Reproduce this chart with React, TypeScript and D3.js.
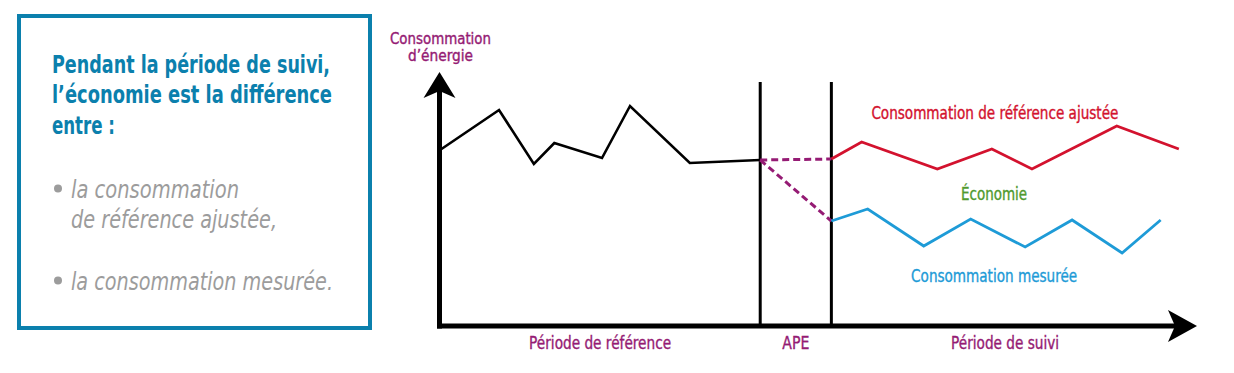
import React from "react";
import * as d3 from "d3";

// Time (arbitrary units, 0-100) and energy consumption (arbitrary units, 0-100)
const referenceT = [0, 7.8, 12.4, 15.1, 21.4, 25.1, 33.0, 42.3];
const referenceV = [70.4, 86.4, 64.8, 73.2, 67.2, 88, 65.2, 66.4];
const adjustedT = [51.7, 55.7, 65.7, 72.9, 78.2, 89.4, 97.6];
const adjustedV = [66.8, 73.6, 62.8, 70.8, 62.8, 80, 70.8];
const measuredT = [51.7, 56.5, 63.9, 70.1, 77.3, 83.5, 90.1, 95.2];
const measuredV = [42, 46.8, 32, 42.8, 31.6, 42.4, 29.2, 42.4];
const periodBounds = [0, 42.3, 51.7, 97.6];
const periodLabels = ["Période de référence", "APE", "Période de suivi"];
const yAxisLabel = ["Consommation", "d’énergie"];
const boxTitle = ["Pendant la période de suivi,", "l’économie est la différence", "entre :"];
const boxItems = [["la consommation", "de référence ajustée,"], ["la consommation mesurée."]];
const seriesLabels = ["Consommation de référence ajustée", "Économie", "Consommation mesurée"];

const PURPLE = "#951b74";
const RED = "#d3122e";
const BLUE = "#1e9bd7";
const GREEN = "#4f9a2e";
const BOXBLUE = "#0b80ad";
const GRAY = "#9c9c9c";
const FONT = "'Liberation Sans Narrow', 'DejaVu Sans Condensed', Roboto, 'Liberation Sans', sans-serif";

export default function App() {
  const x = d3.scaleLinear().domain([0, 100]).range([440, 1197]);
  const y = d3.scaleLinear().domain([0, 100]).range([326, 76]);
  const line = d3
    .line<[number, number]>()
    .x((d) => x(d[0]))
    .y((d) => y(d[1]));

  const refPts = referenceT.map((t, i) => [t, referenceV[i]] as [number, number]);
  const adjPts = adjustedT.map((t, i) => [t, adjustedV[i]] as [number, number]);
  const meaPts = measuredT.map((t, i) => [t, measuredV[i]] as [number, number]);
  const last = refPts[refPts.length - 1];

  const x0 = x(0) - 0.5;
  const yBase = y(0);
  const yTop = 72;
  const xEnd = 1197;

  const boxTitleLens = [278, 280, 63];
  const itemLens = [[168, 206], [262]];
  const labelW = [142, 27, 108];
  const seriesW = [247, 66, 166];
  const labelStroke = { stroke: "currentColor", strokeWidth: 0.35 };

  return (
    <svg
      width={1234}
      height={373}
      style={{ position: "absolute", left: 0, top: 0, background: "#fff" }}
      fontFamily={FONT}
    >
      {/* Text box */}
      <rect x={19} y={16} width={351} height={312} fill="none" stroke={BOXBLUE} strokeWidth={4} />
      {boxTitle.map((t, i) => (
        <text
          key={t}
          x={52}
          y={72.5 + i * 30.5}
          fontSize={24}
          fontWeight="bold"
          fill={BOXBLUE}
          textLength={boxTitleLens[i]}
          lengthAdjust="spacingAndGlyphs"
        >
          {t}
        </text>
      ))}
      {boxItems.map((item, gi) => {
        const base = gi === 0 ? 198 : 290;
        return (
          <g key={gi}>
            <circle cx={58} cy={base - 9.5} r={4} fill={GRAY} />
            {item.map((t, li) => (
              <text
                key={t}
                x={71}
                y={base + li * 30}
                fontSize={24}
                fontStyle="italic"
                fill={GRAY}
                textLength={itemLens[gi][li]}
                lengthAdjust="spacingAndGlyphs"
              >
                {t}
              </text>
            ))}
          </g>
        );
      })}

      {/* Y axis label */}
      {yAxisLabel.map((t, i) => (
        <text
          key={t}
          x={440.5}
          y={43.5 + i * 17.5}
          fontSize={15}
          fill={PURPLE}
          color={PURPLE}
          {...labelStroke}
          textAnchor="middle"
          textLength={i === 0 ? 101 : 65}
          lengthAdjust="spacingAndGlyphs"
        >
          {t}
        </text>
      ))}

      {/* Period separators */}
      {periodBounds.slice(1, 3).map((b) => (
        <line key={b} x1={x(b)} x2={x(b)} y1={82} y2={yBase} stroke="#000" strokeWidth={3} />
      ))}

      {/* Axes */}
      <line x1={x0} x2={x0} y1={yBase + 2.5} y2={yTop + 14} stroke="#000" strokeWidth={5} />
      <path
        d={`M${x0},${yTop} L${x0 + 16},${yTop + 26} L${x0},${yTop + 19} L${x0 - 16},${yTop + 26} Z`}
        fill="#000"
      />
      <line x1={x0 - 2.5} x2={xEnd - 14} y1={yBase} y2={yBase} stroke="#000" strokeWidth={5} />
      <path
        d={`M${xEnd},${yBase} L${xEnd - 29},${yBase - 16} L${xEnd - 22},${yBase} L${xEnd - 29},${yBase + 16} Z`}
        fill="#000"
      />

      {/* Reference period consumption */}
      <path d={line(refPts) || ""} fill="none" stroke="#000" strokeWidth={2.6} strokeLinejoin="miter" />

      {/* Dashed projections across APE */}
      <path
        d={line([last, adjPts[0]]) || ""}
        fill="none"
        stroke={PURPLE}
        strokeWidth={3}
        strokeDasharray="7 4"
      />
      <path
        d={line([last, meaPts[0]]) || ""}
        fill="none"
        stroke={PURPLE}
        strokeWidth={3}
        strokeDasharray="7 4"
      />

      {/* Follow-up lines */}
      <path d={line(adjPts) || ""} fill="none" stroke={RED} strokeWidth={2.8} />
      <path d={line(meaPts) || ""} fill="none" stroke={BLUE} strokeWidth={2.8} />

      {/* Series labels */}
      {[
        { t: 73.3, v: 82.8, c: RED },
        { t: 73.2, v: 50.4, c: GREEN },
        { t: 73.2, v: 17.6, c: BLUE },
      ].map((p, i) => (
        <text
          key={seriesLabels[i]}
          x={x(p.t)}
          y={y(p.v)}
          fontSize={17}
          fill={p.c}
          color={p.c}
          {...labelStroke}
          textAnchor="middle"
          textLength={seriesW[i]}
          lengthAdjust="spacingAndGlyphs"
        >
          {seriesLabels[i]}
        </text>
      ))}

      {/* Period labels */}
      {periodLabels.map((t, i) => (
        <text
          key={t}
          x={x((periodBounds[i] + periodBounds[i + 1]) / 2)}
          y={349}
          fontSize={17}
          fill={PURPLE}
          color={PURPLE}
          {...labelStroke}
          textAnchor="middle"
          textLength={labelW[i]}
          lengthAdjust="spacingAndGlyphs"
        >
          {t}
        </text>
      ))}
    </svg>
  );
}
